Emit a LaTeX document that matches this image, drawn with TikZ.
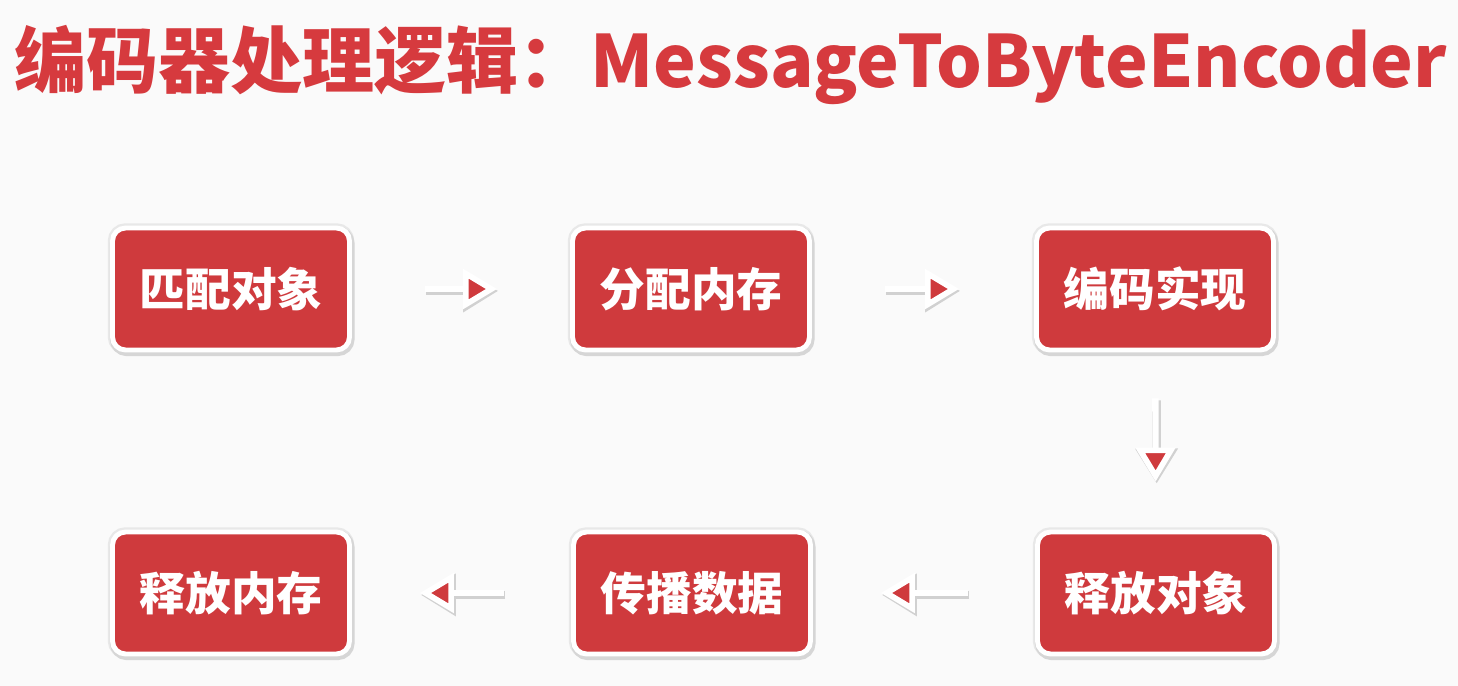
\documentclass[tikz,border=0pt]{standalone}
\usepackage{fontspec}
\newfontfamily\cjk{Noto Sans CJK SC}
\usetikzlibrary{arrows.meta,shadows}
\definecolor{boxred}{RGB}{207,58,61}
\definecolor{titlered}{RGB}{214,58,62}
\definecolor{pagebg}{RGB}{250,250,250}

\tikzset{
  stepbox/.style={draw=white,line width=2.8pt,fill=boxred,rounded corners=0.26cm,
    minimum width=4.74cm,minimum height=2.44cm,inner sep=0pt,text=white,
    font=\cjk\bfseries\fontsize{26}{30}\selectfont,
    preaction={draw=black!9,line width=5.4pt},
    preaction={draw=black!16,line width=4.4pt,transform canvas={shift={(0.7pt,-1.3pt)}}}},
  flow/.style={line width=3.6pt,white,
    -{Triangle[length=0.68cm,width=0.78cm,line width=3.2pt,fill=boxred]},
    preaction={draw=black!18,line width=5pt,
      -{Triangle[length=0.7cm,width=0.82cm,line width=4.2pt,fill=black!18]},
      transform canvas={shift={(0.6pt,-1.1pt)}}}},
}

\begin{document}
\begin{tikzpicture}[x=0.02cm,y=0.02cm]
  \fill[pagebg] (0,0) rectangle (1458,686);
  \useasboundingbox (0,0) rectangle (1458,686);
  % title
  \node[anchor=base west,inner sep=0pt,text=titlered,font=\cjk\bfseries\fontsize{41}{48}\selectfont]
    (title) at (14,598) {编码器处理逻辑：MessageToByteEncoder};
  % steps
  \node[stepbox] (match) at (231,397) {匹配对象};
  \node[stepbox] (alloc) at (691,397) {分配内存};
  \node[stepbox] (encode) at (1155,397) {编码实现};
  \node[stepbox] (relobj) at (1156,93) {释放对象};
  \node[stepbox] (spread) at (692,93) {传播数据};
  \node[stepbox] (relmem) at (231,93) {释放内存};
  % arrows
  \draw[flow,shorten <=1.46cm,shorten >=1.46cm] (match) -- (alloc);
  \draw[flow,shorten <=1.46cm,shorten >=1.5cm] (alloc) -- (encode);
  \draw[flow,shorten <=0.92cm,shorten >=0.96cm] (encode) -- (relobj);
  \draw[flow,shorten <=1.34cm,shorten >=1.36cm] (relobj) -- (spread);
  \draw[flow,shorten <=1.34cm,shorten >=1.36cm] (spread) -- (relmem);
\end{tikzpicture}
\end{document}
